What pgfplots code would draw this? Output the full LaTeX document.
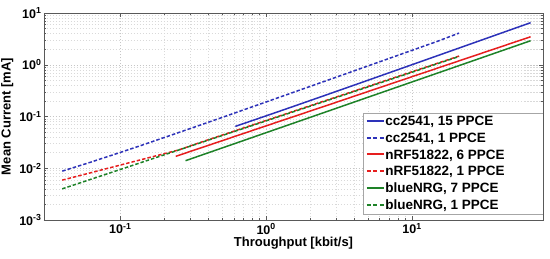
\documentclass[border=0pt]{standalone}
\usepackage{pgfplots}
\pgfplotsset{compat=1.18}
\usepackage{fontspec}
\setmainfont{Liberation Sans}

\definecolor{cblue}{RGB}{45,50,185}
\definecolor{cred}{RGB}{230,30,30}
\definecolor{cgreen}{RGB}{30,130,40}

% legend samples as coloured rules
\newcommand{\solidimg}[1]{\textcolor{#1}{\rule[3.8pt]{17pt}{2pt}}}
\newcommand{\dashimg}[1]{\textcolor{#1}{\rule[3.8pt]{4pt}{2pt}\hspace{2.5pt}\rule[3.8pt]{4pt}{2pt}\hspace{2.5pt}\rule[3.8pt]{4pt}{2pt}}}

\begin{document}
\begin{tikzpicture}
\begin{axis}[
  scale only axis,
  width=499pt, height=207pt,
  xmode=log, ymode=log,
  xmin=0.03, xmax=79,
  ymin=1e-3, ymax=10,
  xtick={0.1,1,10},
  xticklabels={\textbf{10}\textsuperscript{\textbf{-1}},\textbf{10}\textsuperscript{\textbf{0}},\textbf{10}\textsuperscript{\textbf{1}}},
  ytick={0.001,0.01,0.1,1,10},
  yticklabels={\textbf{10}\textsuperscript{\textbf{-3}},\textbf{10}\textsuperscript{\textbf{-2}},\textbf{10}\textsuperscript{\textbf{-1}},\textbf{10}\textsuperscript{\textbf{0}},\textbf{10}\textsuperscript{\textbf{1}}},
  tick label style={font=\fontsize{12.5}{14}\selectfont},
  yticklabel style={xshift=1pt},
  xlabel={\textbf{Throughput [kbit/s]}},
  ylabel={\textbf{Mean Current [mA]}},
  label style={font=\fontsize{13}{15}\selectfont},
  xlabel style={yshift=4pt},
  ylabel style={yshift=-1pt},
  grid=both,
  major grid style={gray!45, dash pattern=on 1.5pt off 1.5pt},
  minor grid style={gray!30, dash pattern=on 1.5pt off 1.5pt},
  tick align=inside,
  major tick length=4pt,
  minor tick length=2.5pt,
  axis line style={gray!70!black},
  every tick/.style={gray!70!black},
]
% cc2541, 15 PPCE
\addplot[color=cblue, line width=1.5pt] coordinates {
  (0.615,0.0645) (1,0.103) (1.5,0.153) (2.5,0.253) (4,0.403) (6,0.603)
  (10,1.003) (15,1.503) (25,2.503) (40,4.003) (65,6.503)};
% cc2541, 1 PPCE
\addplot[color=cblue, line width=1.5pt, dash pattern=on 3.5pt off 2pt] coordinates {
  (0.04,0.0088) (0.06,0.0126) (0.1,0.0202) (0.15,0.0297) (0.25,0.0487)
  (0.4,0.0772) (0.6,0.1152) (1,0.1912) (1.5,0.2862) (2.5,0.4762)
  (4,0.7612) (6,1.1412) (10,1.9012) (15,2.8512) (21,4.0912)};
% nRF51822, 6 PPCE
\addplot[color=cred, line width=1.5pt] coordinates {
  (0.24,0.017) (0.4,0.0276) (0.6,0.0406) (1,0.066) (1.5,0.097) (2.5,0.157)
  (4,0.246) (6,0.362) (10,0.588) (15,0.864) (25,1.404) (40,2.193) (65,3.478)};
% nRF51822, 1 PPCE
\addplot[color=cred, line width=1.5pt, dash pattern=on 3.5pt off 2pt] coordinates {
  (0.04,0.0059) (0.06,0.00793) (0.1,0.01152) (0.15,0.01549) (0.25,0.02248)
  (0.4,0.0355) (0.6,0.052) (1,0.084) (1.5,0.1231) (2.5,0.199)
  (4,0.3095) (6,0.453) (10,0.732) (15,1.073) (21,1.472)};
% blueNRG, 7 PPCE
\addplot[color=cgreen, line width=1.5pt] coordinates {
  (0.28,0.014) (0.4,0.01986) (0.6,0.02954) (1,0.04875) (1.5,0.0725)
  (2.5,0.1196) (4,0.1897) (6,0.2822) (10,0.4655) (15,0.6925)
  (25,1.142) (40,1.811) (65,2.913)};
% blueNRG, 1 PPCE
\addplot[color=cgreen, line width=1.5pt, dash pattern=on 3.5pt off 2pt] coordinates {
  (0.04,0.004) (0.06,0.00586) (0.1,0.00946) (0.15,0.01386) (0.25,0.0224)
  (0.4,0.0348) (0.6,0.051) (1,0.0824) (1.5,0.1207) (2.5,0.1951)
  (4,0.3034) (6,0.444) (10,0.718) (15,1.052) (21,1.443)};

% legend: box first, then the entries on top
\node[anchor=south east, fill=white, draw=gray!70, inner sep=0pt,
  minimum width=180pt, minimum height=101pt] at (rel axis cs:1,0.025) {};
\node[anchor=south east, inner xsep=0pt, inner ysep=0pt,
  font=\bfseries\fontsize{13.5}{16.8}\selectfont] at (rel axis cs:1,0.025) {%
  \renewcommand{\arraystretch}{1}%
  \begin{tabular}{@{\hspace{4pt}}l@{\hspace{1.5pt}}p{157.5pt}@{}}
  \solidimg{cblue}  & cc2541, 15 PPCE\\
  \dashimg{cblue}   & cc2541, 1 PPCE\\
  \solidimg{cred}   & nRF51822, 6 PPCE\\
  \dashimg{cred}    & nRF51822, 1 PPCE\\
  \solidimg{cgreen} & blueNRG, 7 PPCE\\
  \dashimg{cgreen}  & blueNRG, 1 PPCE
  \end{tabular}};
\end{axis}
\pgfresetboundingbox
\path (-44pt,-38pt) rectangle (506pt,220pt);
\end{tikzpicture}
\end{document}
